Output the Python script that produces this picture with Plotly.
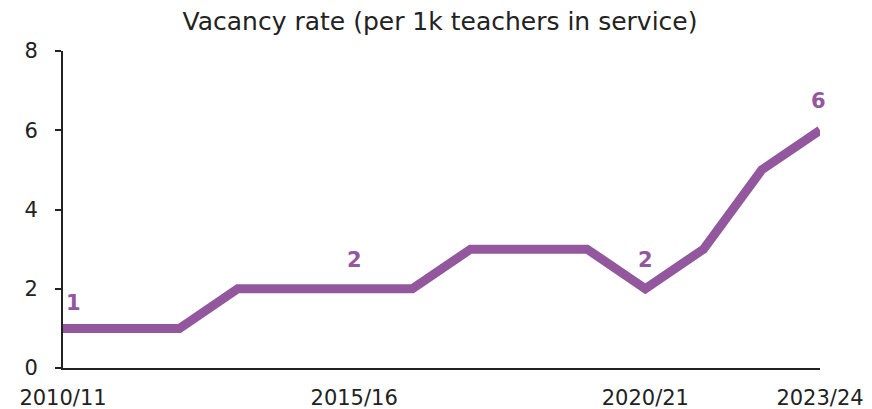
import plotly.graph_objects as go

years = ["2010/11", "2011/12", "2012/13", "2013/14", "2014/15", "2015/16", "2016/17",
         "2017/18", "2018/19", "2019/20", "2020/21", "2021/22", "2022/23", "2023/24"]
vacancy_rate = [1, 1, 1, 2, 2, 2, 2, 3, 3, 3, 2, 3, 5, 6]
labelled_years = ["2010/11", "2015/16", "2020/21", "2023/24"]
label_xshift = [10, 0, 0, -2]
label_yshift = [25, 29, 29, 29]
tick_labels = ["2010/11", "2015/16", "2020/21", "2023/24"]
y_ticks = [0, 2, 4, 6, 8]

purple = "#93579E"
dark = "#222222"
font_family = "DejaVu Sans, sans-serif"

# page body has an 8px margin; figure sized so it fills the 872x409 window
W, H = 864, 401

fig = go.Figure()
fig.add_trace(go.Scatter(
    x=years, y=vacancy_rate, mode="lines",
    line=dict(color=purple, width=9),
    cliponaxis=False, hoverinfo="skip",
))

for yr, dx, dy in zip(labelled_years, label_xshift, label_yshift):
    v = vacancy_rate[years.index(yr)]
    fig.add_annotation(
        x=yr, y=v, text=str(v), showarrow=False,
        xshift=dx, yshift=dy,
        font=dict(color=purple, size=21, family=font_family, weight=600),
    )

fig.update_layout(
    width=W, height=H,
    margin=dict(l=55, r=52, t=43, b=41, autoexpand=False),
    paper_bgcolor="white", plot_bgcolor="white",
    showlegend=False,
    font=dict(family=font_family, size=21, color=dark),
    title=dict(text="Vacancy rate (per 1k teachers in service)", x=0.5, xanchor="center",
               y=1 - 13 / H, yanchor="middle", font=dict(size=25, color=dark)),
)
fig.update_xaxes(
    type="category", range=[0, len(years) - 1], automargin=False,
    tickmode="array", tickvals=labelled_years, ticktext=tick_labels,
    showgrid=False, showline=True, linecolor=dark, linewidth=2,
    ticks="", ticklabelstandoff=10, zeroline=False,
)
fig.update_yaxes(
    range=[0, 8], tickvals=y_ticks, showgrid=False, automargin=False,
    showline=True, linecolor=dark, linewidth=2,
    ticks="outside", ticklen=6, tickwidth=2, tickcolor=dark,
    ticklabelstandoff=13, zeroline=False,
)

fig.write_html("out.html")
